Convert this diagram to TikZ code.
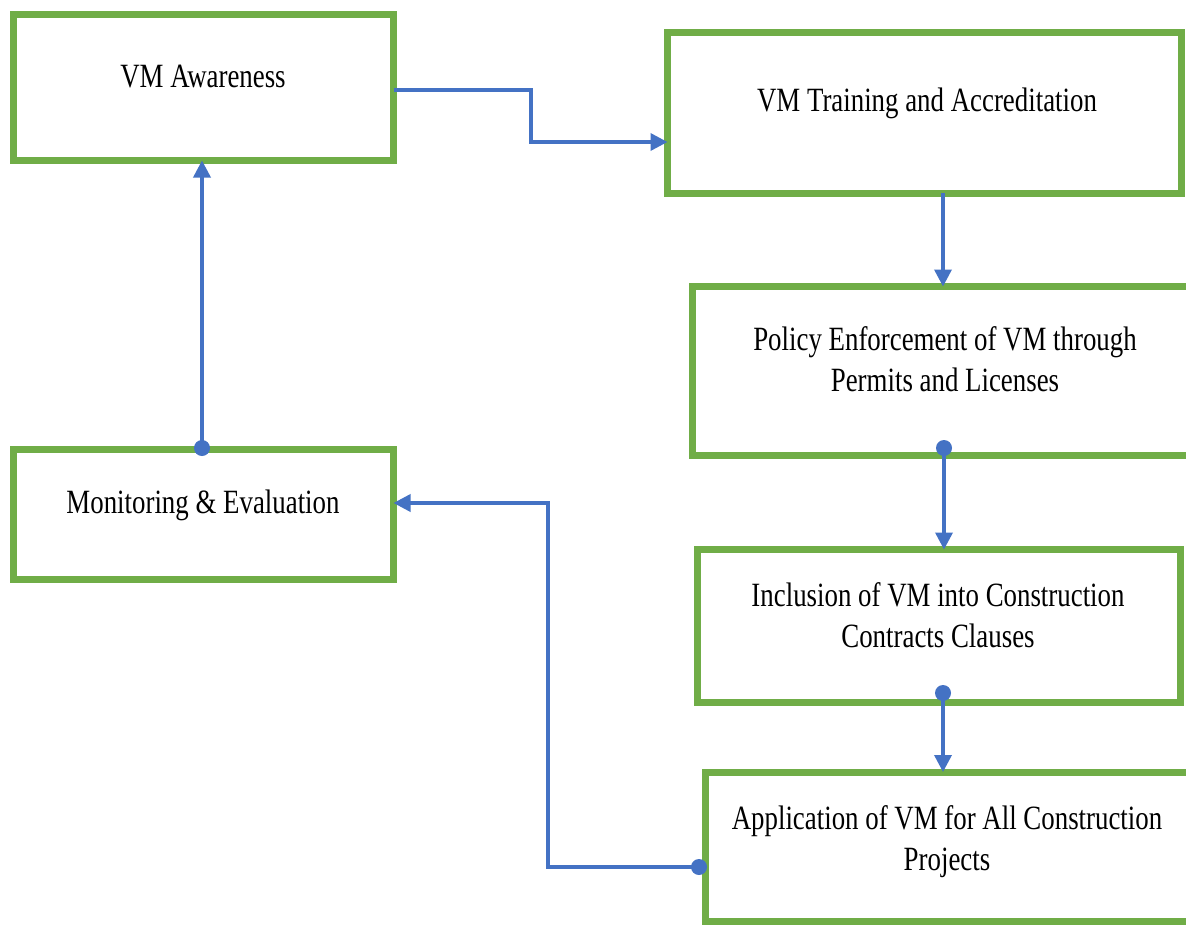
\documentclass[tikz,border=0pt]{standalone}
\usepackage{fontspec}
\setmainfont[FakeStretch=0.79]{Liberation Serif}
\usetikzlibrary{arrows.meta}
\definecolor{boxgreen}{HTML}{70AD47}
\definecolor{linkblue}{HTML}{4472C4}
\begin{document}
\begin{tikzpicture}[x=1pt,y=-1pt,
  box/.style={draw=boxgreen, line width=7pt, rectangle, inner sep=0pt, outer sep=0pt},
  txt/.style={font=\fontsize{34}{41}\selectfont, align=center, anchor=base, inner sep=0pt, text=black},
  conn/.style={draw=linkblue, line width=3.5pt},
  arr/.style={conn, -{Triangle[length=17pt,width=17pt]}},
  dot/.style={circle, fill=linkblue, inner sep=0pt, minimum size=16pt}
]
\useasboundingbox[fill=white] (0,0) rectangle (1186,924);

% boxes
\node[box, minimum width=380pt, minimum height=146pt] (aw) at (203.5,87.5) {};
\node[box, minimum width=513.5pt, minimum height=161pt] (tr) at (924.25,112.5) {};
\node[box, minimum width=507.5pt, minimum height=169pt] (pe) at (946.25,371) {};
\node[box, minimum width=483pt, minimum height=152.5pt] (in) at (938.5,625.75) {};
\node[box, minimum width=494.5pt, minimum height=149pt] (ap) at (952.75,846.5) {};
\node[box, minimum width=380pt, minimum height=130pt] (mo) at (203.5,514) {};

% texts (base anchor = baseline of the last line)
\node[txt] (awt) at (203,87) {VM Awareness};
\node[txt] (trt) at (927,111) {VM Training and Accreditation};
\node[txt] (pet) at (945,391) {Policy Enforcement of VM through\\Permits and Licenses};
\node[txt] (int) at (938,647) {Inclusion of VM into Construction\\Contracts Clauses};
\node[txt] (apt) at (947,870) {Application of VM for All Construction\\Projects};
\node[txt] (mot) at (203,513) {Monitoring \& Evaluation};

% dots
\node[dot] (d1) at (944,448) {};
\node[dot] (d2) at (943,693) {};
\node[dot] (d3) at (699,867) {};
\node[dot] (d4) at (202,448) {};

% connectors
\draw[arr] (aw.east |- 531,90) -- (531,90) -- (531,142) -- (tr.west |- 531,142);
\draw[arr] (tr.south -| d2) -- (pe.north -| d2);
\draw[arr] (d1.center) -- (d1 |- in.north);
\draw[arr] (d2.center) -- (d2 |- ap.north);
\draw[arr] (d3.center) -| (548,503) -- (mo.east |- 548,503);
\draw[arr] (d4.center) -- (d4 |- aw.south);
\end{tikzpicture}
\end{document}
